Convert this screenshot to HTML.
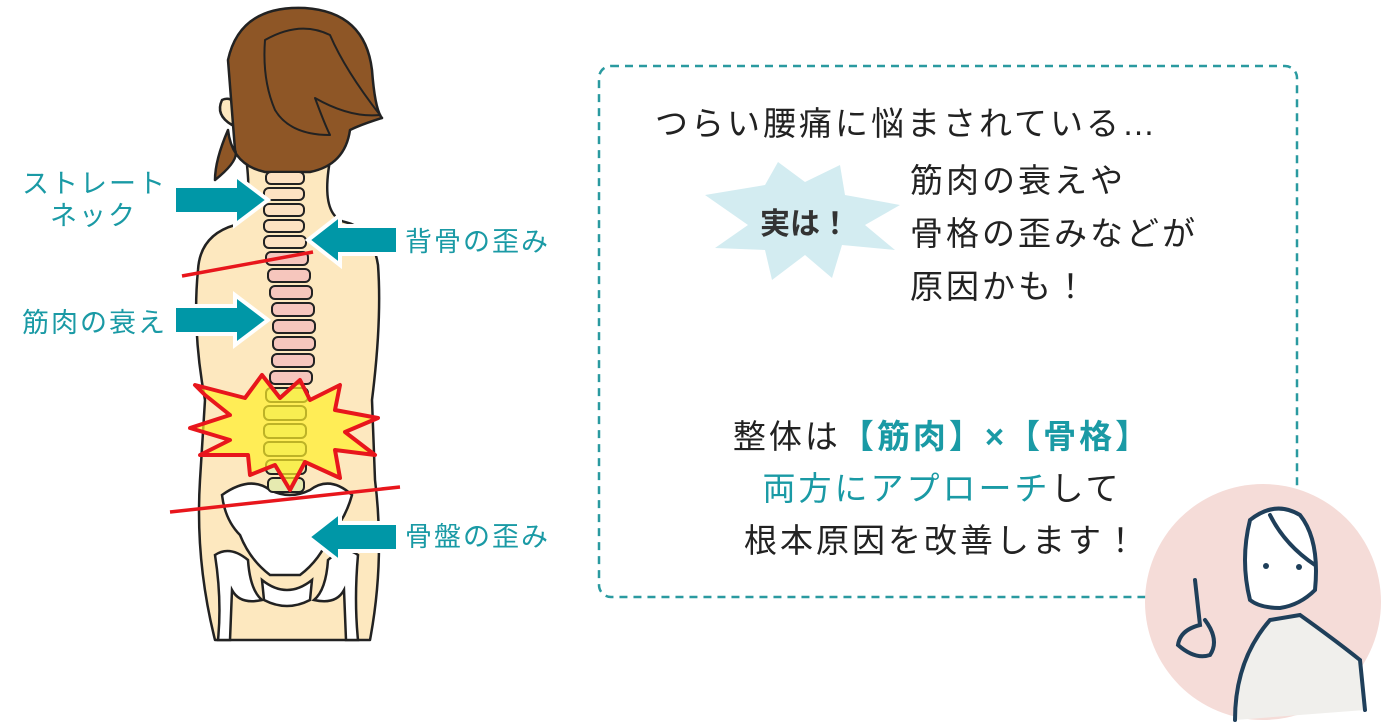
<!DOCTYPE html>
<html><head><meta charset="utf-8"><style>
body{margin:0;width:1386px;height:723px;background:#fff;overflow:hidden;font-family:"Liberation Sans","Noto Sans CJK JP",sans-serif}
svg{position:absolute;left:0;top:0}
</style></head><body>
<svg width="1386" height="723" viewBox="0 0 1386 723" xmlns="http://www.w3.org/2000/svg">
<!-- body -->
<g stroke="#222" stroke-width="2.5" stroke-linejoin="round">
<path d="M245 150 Q255 215 235 225 Q200 235 198 270 Q192 330 205 400 L200 480 Q195 560 215 640 L370 640 Q385 560 375 480 L372 400 Q382 320 378 265 Q372 228 345 222 Q318 215 332 150 Z" fill="#fde8bf"/>
<path d="M232 125 Q215 115 222 100 Q232 95 240 110 Z" fill="#fde8bf"/>
<path d="M228 60 Q240 5 305 8 Q365 12 372 70 Q375 110 382 118 Q360 125 350 130 Q345 165 310 172 L265 172 Q232 165 228 130 Q215 160 215 180 Q240 160 235 150 Z" fill="#8e5626"/>
<path d="M265 40 Q300 20 330 35 Q345 70 380 115 Q350 118 315 98 Q325 125 330 135 Q290 135 275 110 Q262 80 265 40 Z" fill="#8e5626" stroke-width="2"/>
</g>
<!-- pelvis -->
<g fill="#fff" stroke="#222" stroke-width="2.5">
<path d="M222 495 Q250 475 270 490 Q290 500 310 490 Q330 475 352 495 Q345 520 330 535 Q320 560 300 575 L270 575 Q250 560 240 535 Q225 520 222 495 Z"/>
<path d="M215 555 Q230 545 248 560 Q250 590 262 600 Q240 605 232 590 L230 640 L218 640 Q222 600 215 555Z"/>
<path d="M358 555 Q345 545 328 560 Q326 590 314 600 Q336 605 344 590 L346 640 L358 640 Q354 600 358 555Z"/>
<path d="M262 580 Q287 600 312 580 L310 600 Q287 612 264 600 Z"/>
</g>
<!-- spine -->
<g stroke="#222" stroke-width="2">
<g fill="#fde2c2">
<rect x="266" y="172" width="38" height="12" rx="5"/><rect x="264" y="188" width="40" height="12" rx="5"/><rect x="264" y="204" width="40" height="12" rx="5"/><rect x="264" y="220" width="40" height="12" rx="5"/><rect x="264" y="236" width="42" height="12" rx="5"/>
</g>
<g fill="#f6c6bd">
<rect x="266" y="252" width="42" height="13" rx="5"/><rect x="268" y="269" width="42" height="13" rx="5"/><rect x="270" y="286" width="42" height="13" rx="5"/><rect x="272" y="303" width="42" height="13" rx="5"/><rect x="273" y="320" width="42" height="13" rx="5"/><rect x="273" y="337" width="42" height="13" rx="5"/><rect x="272" y="354" width="42" height="13" rx="5"/><rect x="270" y="371" width="42" height="13" rx="5"/>
</g>
<g fill="#e6eab0">
<rect x="266" y="388" width="42" height="14" rx="5"/><rect x="264" y="406" width="42" height="14" rx="5"/><rect x="264" y="424" width="42" height="14" rx="5"/><rect x="264" y="442" width="42" height="14" rx="5"/><rect x="266" y="460" width="40" height="14" rx="5"/><rect x="268" y="478" width="36" height="14" rx="5"/>
</g>
</g>
<!-- burst -->
<polygon points="195,385 245,398 262,375 280,398 300,380 310,400 340,385 335,410 378,418 345,432 375,455 335,450 340,478 305,462 290,490 275,465 250,475 248,455 200,455 230,440 190,428 230,415 205,395" fill="#fff02a" stroke="#e8161c" stroke-width="4" stroke-linejoin="round" fill-opacity="0.7"/>
<!-- red lines -->
<line x1="182" y1="276" x2="313" y2="252" stroke="#e8161c" stroke-width="3.5"/>
<line x1="170" y1="512" x2="400" y2="487" stroke="#e8161c" stroke-width="3.5"/>
<!-- arrows -->
<g fill="#0097a7" stroke="#fff" stroke-width="4" stroke-linejoin="miter">
<polygon points="174,186 235,186 235,175 268,200 235,225 235,214 174,214"/>
<polygon points="174,306 235,306 235,295 268,320 235,345 235,334 174,334"/>
<polygon points="398,226 340,226 340,215 308,240 340,265 340,254 398,254"/>
<polygon points="398,523 340,523 340,512 308,537 340,562 340,551 398,551"/>
</g>
<g fill="#1a9aa5" font-size="27" letter-spacing="2">
<text x="22" y="193">ストレート</text><text x="50" y="225">ネック</text>
<text x="22" y="332">筋肉の衰え</text>
<text x="405" y="251">背骨の歪み</text>
<text x="405" y="546">骨盤の歪み</text>
</g>
<!-- box -->
<rect x="599" y="66" width="698" height="531" rx="12" fill="none" stroke="#2a9aa0" stroke-width="2.5" stroke-dasharray="8,6"/>
<g font-size="33" fill="#222" letter-spacing="3">
<text x="655" y="135">つらい腰痛に悩まされている…</text>
<text x="910" y="192">筋肉の衰えや</text>
<text x="910" y="245">骨格の歪みなどが</text>
<text x="910" y="298">原因かも！</text>
<text x="942" y="448" text-anchor="middle">整体は<tspan fill="#1a9aa5" font-weight="bold">【筋肉】×【骨格】</tspan></text>
<text x="942" y="500" text-anchor="middle"><tspan fill="#1a9aa5">両方にアプローチ</tspan>して</text>
<text x="942" y="552" text-anchor="middle">根本原因を改善します！</text>
</g>
<polygon points="705,195 765,185 778,162 805,182 840,165 845,195 900,205 865,225 895,250 842,245 832,278 805,255 772,280 765,250 715,248 748,225" fill="#d3ecf1"/>
<text x="805" y="234" text-anchor="middle" font-size="30" font-weight="bold" fill="#333">実は！</text>
<!-- doctor -->
<circle cx="1263" cy="602" r="118" fill="#f5dcd8"/>
<g stroke="#1f3f5a" stroke-width="4" fill="none" stroke-linecap="round">
<path d="M1250 600 Q1240 560 1250 520 Q1275 500 1300 515 Q1320 540 1315 590 Q1300 605 1280 608 Q1260 608 1250 600Z" fill="#fff"/>
<path d="M1270 515 Q1285 545 1315 565"/>
<path d="M1235 720 Q1235 660 1270 620 L1300 615 Q1335 640 1360 660 L1365 710" fill="#f0efec"/>
<path d="M1195 580 L1200 625 Q1180 630 1178 645 Q1195 660 1210 655 Q1220 640 1205 620"/>
</g>
<circle cx="1266" cy="566" r="3" fill="#1f3f5a"/><circle cx="1299" cy="567" r="3" fill="#1f3f5a"/>
</svg>
</body></html>
